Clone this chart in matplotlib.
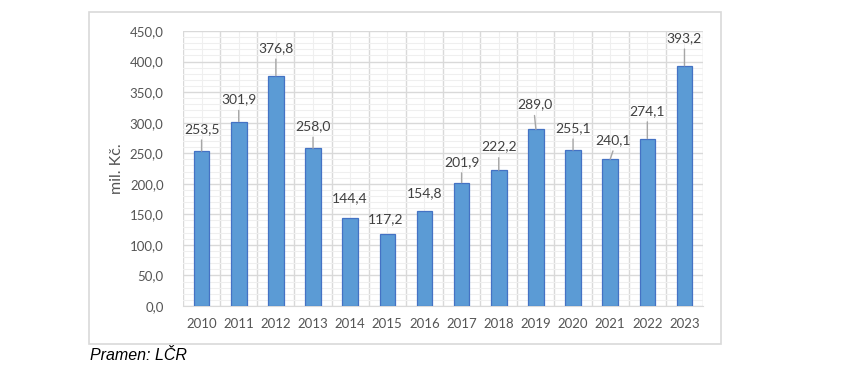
import numpy as np
import matplotlib.pyplot as plt
from matplotlib.patches import Rectangle

years = ['2010', '2011', '2012', '2013', '2014', '2015', '2016',
         '2017', '2018', '2019', '2020', '2021', '2022', '2023']
values = [253.5, 301.9, 376.8, 258.0, 144.4, 117.2, 154.8,
          201.9, 222.2, 289.0, 255.1, 240.1, 274.1, 393.2]
y_ticks = [0, 50, 100, 150, 200, 250, 300, 350, 400, 450]

# label placement (points above bar top, x shift in points), like the original
label_dy = [16, 16, 20, 16, 14, 11, 13, 15, 17, 18, 16, 14, 20, 20]
label_dx = [0, 0, 0, 0, 0, -1, 0, 0, 0, -1, 0, 2, 0, 0]
leader = [True, True, True, True, False, False, False,
          True, True, True, True, True, True, True]

txt_font = ['Lato', 'DejaVu Sans']
gray = '#555555'

fig = plt.figure(figsize=(8.6, 3.75), dpi=100)
fig.patches.append(Rectangle((0.1035, 0.0827), 0.735, 0.885, transform=fig.transFigure,
                             fill=False, edgecolor='#D9D9D9', linewidth=1.2))
ax = fig.add_axes([0.2128, 0.184, 0.6047, 0.7333])

x = np.arange(len(years))
ax.bar(x, values, width=0.42, color='#5B9BD5', edgecolor='#4472C4', linewidth=0.9, zorder=3)

ax.set_xlim(-0.5, len(years) - 0.5)
ax.set_ylim(0, 450)
ax.set_yticks(y_ticks)
ax.set_yticklabels([f'{v:.1f}'.replace('.', ',') for v in y_ticks])
ax.set_yticks(np.arange(0, 451, 10), minor=True)
ax.set_xticks(x)
ax.set_xticklabels(years)
ax.set_xticks(np.arange(-0.5, len(years), 1), minor=True)

ax.grid(True, which='major', axis='y', color='#D9D9D9', linewidth=1.0, zorder=0)
ax.grid(True, which='minor', axis='y', color='#EFEFEF', linewidth=0.8, zorder=0)
ax.grid(True, which='minor', axis='x', color='#D9D9D9', linewidth=1.0, zorder=0)
ax.grid(True, which='major', axis='x', color='#EFEFEF', linewidth=0.8, zorder=0)

for s in ['top', 'right', 'left']:
    ax.spines[s].set_visible(False)
ax.spines['bottom'].set_color('#D9D9D9')
ax.tick_params(which='both', length=0)
ax.tick_params(axis='y', pad=14)
ax.tick_params(axis='x', pad=9)
for lab in ax.get_xticklabels() + ax.get_yticklabels():
    lab.set_fontfamily(txt_font)
    lab.set_fontsize(9.5)
    lab.set_color(gray)

ax.set_ylabel('mil. Kč.', fontsize=11.5, color=gray, family=txt_font, labelpad=4)

for i, v in enumerate(values):
    label = f'{v:.1f}'.replace('.', ',')
    ax.annotate(label, xy=(i, v), xytext=(label_dx[i], label_dy[i]),
                textcoords='offset points', ha='center', va='center',
                fontsize=10, color='#404040', family=txt_font, zorder=5)
    if leader[i]:
        ax.annotate('', xy=(i, v), xytext=(label_dx[i], label_dy[i] - 8),
                    textcoords='offset points',
                    arrowprops=dict(arrowstyle='-', color='#A6A6A6', lw=1,
                                    shrinkA=0, shrinkB=0), zorder=4)

fig.text(0.105, 0.053, 'Pramen: LČR', fontsize=11.5, style='italic',
         family=['Liberation Sans', 'DejaVu Sans'], ha='left', va='center', color='black')

fig.savefig('out.png', dpi=100)
